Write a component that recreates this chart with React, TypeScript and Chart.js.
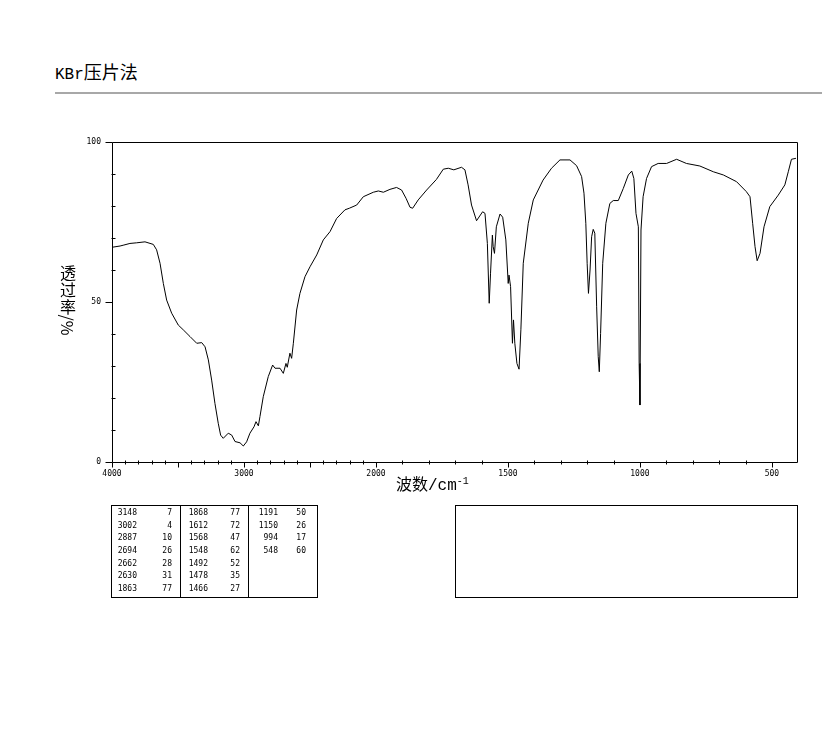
import React, { useEffect, useRef } from "react";
import { Chart, registerables } from "chart.js";

Chart.register(...registerables);

// ---- spectrum data (wavenumber cm-1, transmittance %) ----
const wavenumbers = [
  4000, 3939, 3910, 3864, 3813, 3750, 3687, 3662, 3636, 3611,
  3586, 3548, 3498, 3460, 3409, 3358, 3320, 3295, 3270, 3245,
  3220, 3195, 3177, 3157, 3119, 3093, 3068, 3030, 3005, 2980,
  2955, 2924, 2909, 2891, 2879, 2854, 2816, 2783, 2765, 2727,
  2702, 2682, 2672, 2652, 2639, 2626, 2601, 2576, 2538, 2500,
  2449, 2399, 2348, 2298, 2235, 2202, 2146, 2096, 2020, 1991,
  1972, 1947, 1922, 1903, 1886, 1871, 1861, 1840, 1808, 1771,
  1745, 1726, 1705, 1676, 1663, 1651, 1638, 1619, 1596, 1587,
  1578, 1571, 1566, 1559, 1556, 1551, 1544, 1530, 1520, 1508,
  1499, 1496, 1490, 1483, 1479, 1474, 1466, 1458, 1451, 1442,
  1423, 1404, 1367, 1335, 1303, 1265, 1240, 1221, 1212, 1205,
  1200, 1195, 1189, 1183, 1177, 1171, 1164, 1158, 1154, 1149,
  1141, 1129, 1114, 1101, 1082, 1063, 1044, 1031, 1023, 1015,
  1006, 1003, 1000, 996, 988, 975, 956, 931, 899, 861,
  824, 773, 722, 684, 634, 597, 583, 573, 564, 556,
  545, 530, 508, 476, 451, 438, 426, 409,
];
const transmittance = [
  67.1, 67.5, 67.8, 68.3, 68.5, 68.8, 68.0, 66.3, 62.1, 55.8,
  50.6, 46.5, 42.8, 41.3, 39.2, 37.1, 37.3, 36.0, 31.9, 25.6,
  18.3, 12.1, 8.4, 7.4, 9.0, 8.4, 6.4, 6.0, 5.0, 6.3,
  9.0, 11.0, 12.6, 11.3, 14.2, 20.4, 26.7, 30.3, 29.3, 29.3,
  27.7, 30.8, 29.6, 34.0, 32.4, 37.1, 47.5, 52.7, 57.9, 61.0,
  64.7, 69.4, 72.0, 76.1, 78.8, 79.3, 80.3, 82.9, 84.3, 84.7,
  84.3, 85.2, 85.8, 85.0, 82.4, 79.6, 79.3, 81.9, 85.0, 88.3,
  91.5, 91.8, 91.3, 92.1, 91.3, 86.6, 80.3, 75.4, 78.2, 77.7,
  68.3, 49.6, 59.0, 70.9, 67.3, 65.2, 73.5, 77.5, 76.5, 69.4,
  55.8, 58.4, 54.8, 37.1, 44.4, 37.1, 30.8, 29.0, 41.3, 62.1,
  74.6, 81.9, 88.1, 91.8, 94.4, 94.4, 92.6, 89.2, 84.0, 74.6,
  62.1, 52.7, 60.0, 70.4, 72.7, 71.5, 48.5, 32.9, 28.2, 40.2,
  62.1, 74.6, 80.8, 81.7, 81.7, 85.5, 89.7, 90.9, 88.6, 77.7,
  73.5, 30.8, 17.8, 72.5, 82.9, 88.6, 92.3, 93.3, 93.3, 94.6,
  93.3, 92.5, 90.7, 89.7, 87.6, 84.5, 82.9, 74.6, 67.3, 62.9,
  65.2, 73.5, 79.8, 83.4, 86.6, 90.7, 94.6, 94.9,
];

// ---- axes ----
const xLabelled = [4000, 3000, 2000, 1500, 1000, 500];
const xTickStart = 4000;
const xTickEnd = 500;
const xTickStep = 100;
const xMajorEvery = 500;
const xMinWavenumber = 405;
const yLabelled = [0, 50, 100];
const yTickStep = 10;

// ---- peak table ----
const peakWn1 = [3148, 3002, 2887, 2694, 2662, 2630, 1863];
const peakT1 = [7, 4, 10, 26, 28, 31, 77];
const peakWn2 = [1868, 1612, 1568, 1548, 1492, 1478, 1466];
const peakT2 = [77, 72, 47, 62, 52, 35, 27];
const peakWn3 = [1191, 1150, 994, 548];
const peakT3 = [50, 26, 17, 60];

const titleLatin = "KBr";
const titleCjk = "压片法";
const xTitle = "波数/cm";
const xTitleSup = "-1";
const yTitleChars = ["透", "过", "率"];
const yTitleUnit = "/%";

// two-segment wavenumber axis: 4000-2000 compressed x2 relative to 2000-400
function toPos(w: number) {
  return w >= 2000 ? (4000 - w) / 1000 : 2 + (2000 - w) / 500;
}
function fromPos(p: number) {
  return p <= 2 ? 4000 - p * 1000 : 2000 - (p - 2) * 500;
}

const MONO = '"DejaVu Sans Mono", monospace';
const CJK = '"Noto Sans CJK SC", sans-serif';

const ticksPlugin = {
  id: "irTicks",
  afterDraw(chart: any) {
    const { ctx, chartArea } = chart;
    const xs = chart.scales.x;
    const ys = chart.scales.y;
    const L = Math.round(chartArea.left) + 0.5;
    const R = Math.round(chartArea.right) + 0.5;
    const T = Math.round(chartArea.top) + 0.5;
    const B = Math.round(chartArea.bottom) + 0.5;
    ctx.save();
    ctx.strokeStyle = "#000";
    ctx.lineWidth = 1;
    ctx.beginPath();
    ctx.rect(L, T, R - L, B - T);
    for (let w = xTickStart; w >= xTickEnd; w -= xTickStep) {
      const x = Math.round(xs.getPixelForValue(toPos(w))) + 0.5;
      if (w % xMajorEvery === 0) {
        ctx.moveTo(x, B);
        ctx.lineTo(x, B + 5);
      } else {
        ctx.moveTo(x, B - 2);
        ctx.lineTo(x, B + 2);
      }
    }
    for (let v = 0; v <= 100; v += yTickStep) {
      const y = Math.round(ys.getPixelForValue(v)) + 0.5;
      if (yLabelled.includes(v)) {
        ctx.moveTo(L - 7, y);
        ctx.lineTo(L, y);
      } else {
        ctx.moveTo(L - 1, y);
        ctx.lineTo(L + 3, y);
      }
    }
    ctx.stroke();
    ctx.restore();
  },
};

function SpectrumChart() {
  const ref = useRef<HTMLCanvasElement | null>(null);
  useEffect(() => {
    if (!ref.current) return;
    const points = wavenumbers.map((w, i) => ({ x: toPos(w), y: transmittance[i] }));
    const chart = new Chart(ref.current, {
      type: "line",
      data: {
        datasets: [
          {
            data: points,
            borderColor: "#000",
            borderWidth: 1,
            pointRadius: 0,
            tension: 0,
            fill: false,
          },
        ],
      },
      options: {
        animation: false,
        responsive: false,
        events: [],
        layout: { padding: { left: 0, top: 142, right: 25, bottom: 245 } },
        plugins: { legend: { display: false }, tooltip: { enabled: false } },
        scales: {
          x: {
            type: "linear",
            min: 0,
            max: toPos(xMinWavenumber),
            afterFit(scale: any) {
              scale.height = 30;
            },
            afterBuildTicks(scale: any) {
              const t = [];
              for (let w = xTickStart; w >= xTickEnd; w -= xTickStep) t.push({ value: toPos(w) });
              scale.ticks = t;
            },
            grid: { display: false, drawTicks: false },
            border: { display: false },
            ticks: {
              autoSkip: false,
              maxRotation: 0,
              padding: 7,
              color: "#000",
              font: { family: MONO, size: 8 },
              callback(value: any) {
                const w = Math.round(fromPos(Number(value)));
                return xLabelled.includes(w) ? String(w) : "";
              },
            },
          },
          y: {
            type: "linear",
            min: 0,
            max: 100,
            afterFit(scale: any) {
              scale.width = 112;
            },
            grid: { display: false, drawTicks: false },
            border: { display: false },
            ticks: {
              stepSize: yTickStep,
              autoSkip: false,
              padding: 11,
              color: "#000",
              font: { family: MONO, size: 8 },
              callback(value: any) {
                return yLabelled.includes(Number(value)) ? String(value) : "";
              },
            },
          },
        },
      },
      plugins: [ticksPlugin],
    });
    return () => chart.destroy();
  }, []);
  return (
    <canvas
      ref={ref}
      width={822}
      height={737}
      style={{ position: "absolute", left: 0, top: 0, width: 822, height: 737 }}
    />
  );
}

const cellStyle: React.CSSProperties = {
  position: "absolute",
  width: 40,
  textAlign: "right",
  fontFamily: MONO,
  fontSize: 8,
  lineHeight: "12px",
  color: "#000",
  whiteSpace: "pre",
};

function PeakColumn({ wn, t, wnRight, tRight }: { wn: number[]; t: number[]; wnRight: number; tRight: number }) {
  return (
    <>
      {wn.map((w, i) => (
        <React.Fragment key={i}>
          <div style={{ ...cellStyle, top: 507 + i * 12.67, left: wnRight - 40 }}>{w}</div>
          <div style={{ ...cellStyle, top: 507 + i * 12.67, left: tRight - 40 }}>{t[i]}</div>
        </React.Fragment>
      ))}
    </>
  );
}

export default function App() {
  return (
    <div style={{ position: "absolute", left: 0, top: 0, width: 822, height: 737, background: "#fff", overflow: "hidden" }}>
      <div style={{ position: "absolute", left: 55, top: 58, lineHeight: "26px", whiteSpace: "nowrap", color: "#000" }}>
        <span style={{ fontFamily: '"Liberation Mono", monospace', fontSize: 16 }}>{titleLatin}</span>
        <span style={{ fontFamily: CJK, fontSize: 18 }}>{titleCjk}</span>
      </div>
      <div style={{ position: "absolute", left: 55, top: 92, width: 767, height: 2, background: "#a8a8a8" }} />
      <SpectrumChart />
      <div
        style={{
          position: "absolute",
          left: 59,
          top: 264,
          width: 18,
          fontFamily: CJK,
          fontSize: 16,
          lineHeight: "17px",
          color: "#000",
          textAlign: "center",
        }}
      >
        {yTitleChars.map((c, i) => (
          <div key={i}>{c}</div>
        ))}
        <div
          style={{
            width: 18,
            height: 20,
            display: "flex",
            alignItems: "center",
            justifyContent: "center",
            whiteSpace: "nowrap",
            transform: "rotate(90deg)",
          }}
        >
          {yTitleUnit}
        </div>
      </div>
      <div style={{ position: "absolute", left: 396, top: 471, lineHeight: "22px", whiteSpace: "nowrap", color: "#000" }}>
        <span style={{ fontFamily: '"Liberation Mono", "Noto Sans CJK SC", monospace', fontSize: 16 }}>{xTitle}</span>
        <sup style={{ fontFamily: '"Liberation Mono", monospace', fontSize: 10 }}>{xTitleSup}</sup>
      </div>
      {/* peak table */}
      <div style={{ position: "absolute", left: 111, top: 505, width: 205, height: 91, border: "1px solid #000" }} />
      <div style={{ position: "absolute", left: 180, top: 505, width: 1, height: 93, background: "#000" }} />
      <div style={{ position: "absolute", left: 248, top: 505, width: 1, height: 93, background: "#000" }} />
      <PeakColumn wn={peakWn1} t={peakT1} wnRight={137} tRight={172} />
      <PeakColumn wn={peakWn2} t={peakT2} wnRight={208} tRight={240} />
      <PeakColumn wn={peakWn3} t={peakT3} wnRight={278} tRight={306} />
      <div style={{ position: "absolute", left: 455, top: 505, width: 341, height: 91, border: "1px solid #000" }} />
    </div>
  );
}
